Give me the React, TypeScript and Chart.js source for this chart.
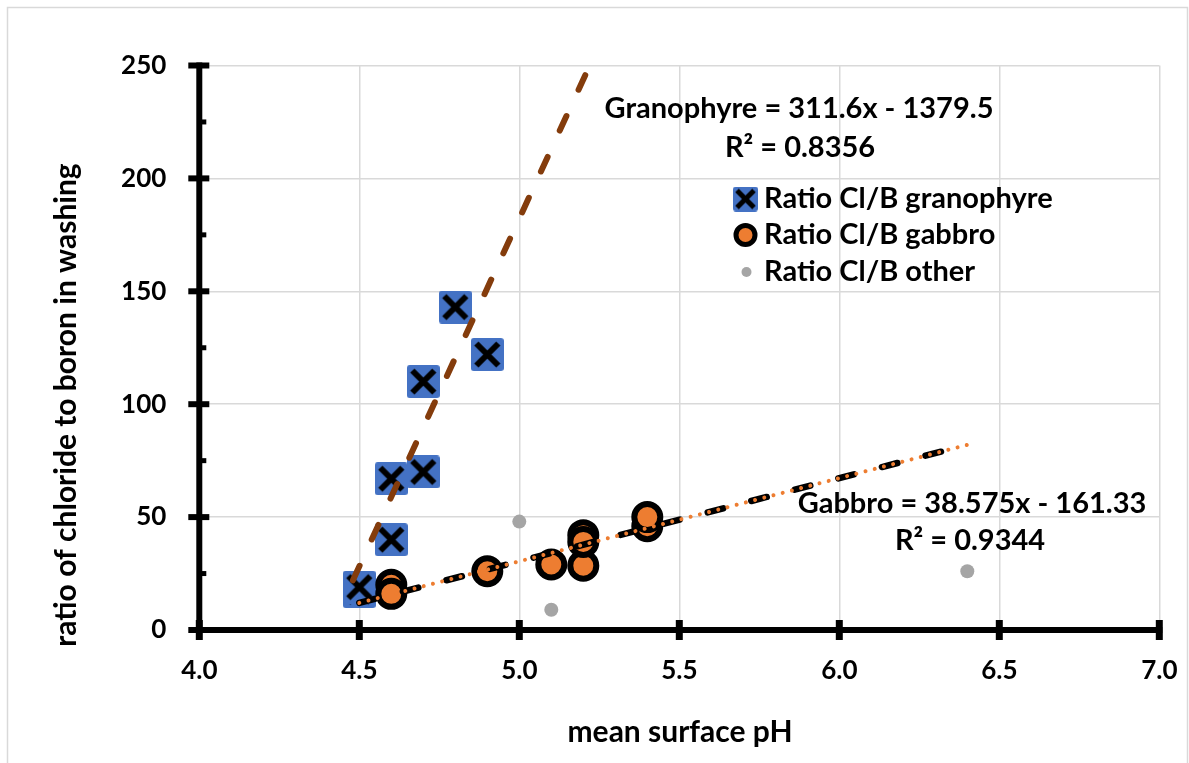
import { useEffect, useRef } from 'react';
import { Chart, registerables } from 'chart.js';

Chart.register(...registerables);

// ---- data ----
const granophyreX = [4.5, 4.5, 4.6, 4.6, 4.7, 4.7, 4.8, 4.9];
const granophyreY = [17, 19, 40, 67, 70, 110, 143, 122];
const gabbroX = [4.6, 4.6, 4.9, 5.1, 5.2, 5.2, 5.2, 5.4, 5.4];
const gabbroY = [20, 16, 26, 29, 28.5, 42, 39, 46, 50];
const otherX = [5.0, 5.1, 6.4];
const otherY = [48, 9, 26];
const granoTrendX = [4.48, 5.22];
const granoTrendY = [22, 250];
const gabbroTrendX = [4.5, 6.4];
const gabbroTrendY = [12, 82];

const xTickLabels = ['4.0', '4.5', '5.0', '5.5', '6.0', '6.5', '7.0'];
const yTickLabels = ['0', '50', '100', '150', '200', '250'];
const legendLabels = ['Ratio Cl/B granophyre', 'Ratio Cl/B gabbro', 'Ratio Cl/B other'];
const granoEquation = ['Granophyre = 311.6x - 1379.5', 'R\u00B2 = 0.8356'];
const gabbroEquation = ['Gabbro = 38.575x - 161.33', 'R\u00B2 = 0.9344'];
const xTitle = 'mean surface pH';
const yTitle = 'ratio of chloride to boron in washing';

const FONT = 'Lato, "Open Sans", sans-serif';
const BLUE = '#4472C4';
const ORANGE = '#ED7D31';
const GREY = '#A5A5A5';
const BROWN = '#843C0C';
const GRID = '#D9D9D9';

const zip = (xs: number[], ys: number[]) => xs.map((x, i) => ({ x, y: ys[i] }));

function makeCrossSquare(size: number, half: number, lw: number): HTMLCanvasElement {
  const c = document.createElement('canvas');
  c.width = size;
  c.height = size;
  const g = c.getContext('2d')!;
  const r = 3;
  g.fillStyle = BLUE;
  g.beginPath();
  g.moveTo(r, 0);
  g.lineTo(size - r, 0);
  g.quadraticCurveTo(size, 0, size, r);
  g.lineTo(size, size - r);
  g.quadraticCurveTo(size, size, size - r, size);
  g.lineTo(r, size);
  g.quadraticCurveTo(0, size, 0, size - r);
  g.lineTo(0, r);
  g.quadraticCurveTo(0, 0, r, 0);
  g.closePath();
  g.fill();
  const m = size / 2;
  g.strokeStyle = '#000';
  g.lineWidth = lw;
  g.lineCap = 'butt';
  g.beginPath();
  g.moveTo(m - half, m - half);
  g.lineTo(m + half, m + half);
  g.moveTo(m + half, m - half);
  g.lineTo(m - half, m + half);
  g.stroke();
  return c;
}

export default function App() {
  const ref = useRef<HTMLCanvasElement>(null);

  useEffect(() => {
    const canvas = ref.current!;
    const markerBig = makeCrossSquare(33, 11, 6);
    const markerLegend = makeCrossSquare(25, 8.5, 5);

    const customPlugin = {
      id: 'custom',
      beforeDraw(chart: any) {
        const { ctx } = chart;
        ctx.save();
        ctx.fillStyle = '#fff';
        ctx.fillRect(0, 0, chart.width, chart.height);
        ctx.strokeStyle = GRID;
        ctx.lineWidth = 1.5;
        ctx.strokeRect(7.5, 7.5, 1180, 800);
        ctx.restore();
      },
      beforeDatasetsDraw(chart: any) {
        const { ctx } = chart;
        const xs = chart.scales.x;
        const ys = chart.scales.y;
        const x0 = xs.getPixelForValue(4);
        const x1 = xs.getPixelForValue(7);
        const y0 = ys.getPixelForValue(0);
        const y1 = ys.getPixelForValue(250);
        ctx.save();
        ctx.strokeStyle = '#000';
        ctx.lineCap = 'butt';
        // axis lines
        ctx.lineWidth = 6;
        ctx.beginPath();
        ctx.moveTo(x0, y1 - 3);
        ctx.lineTo(x0, y0 + 3);
        ctx.moveTo(x0 - 3, y0);
        ctx.lineTo(x1 + 3, y0);
        ctx.stroke();
        // y major ticks (cross)
        ctx.lineWidth = 6;
        for (let v = 0; v <= 250; v += 50) {
          const p = ys.getPixelForValue(v);
          ctx.beginPath();
          ctx.moveTo(x0 - 11, p);
          ctx.lineTo(x0 + 10, p);
          ctx.stroke();
        }
        // y minor ticks (inside)
        ctx.lineWidth = 5;
        for (let v = 25; v < 250; v += 50) {
          const p = ys.getPixelForValue(v);
          ctx.beginPath();
          ctx.moveTo(x0, p);
          ctx.lineTo(x0 + 7, p);
          ctx.stroke();
        }
        // x major ticks (cross)
        ctx.lineWidth = 7;
        for (let v = 4; v <= 7.001; v += 0.5) {
          const p = xs.getPixelForValue(v);
          ctx.beginPath();
          ctx.moveTo(p, y0 - 10);
          ctx.lineTo(p, y0 + 10);
          ctx.stroke();
        }
        ctx.restore();
      },
      afterDraw(chart: any) {
        const { ctx } = chart;
        ctx.save();
        ctx.fillStyle = '#000';
        ctx.textBaseline = 'alphabetic';
        ctx.font = `bold 29px ${FONT}`;
        ctx.textAlign = 'center';
        // trendline equations
        ctx.fillText(granoEquation[0], 799, 118);
        ctx.fillText(granoEquation[1], 800, 157);
        ctx.fillText(gabbroEquation[0], 972, 513);
        ctx.fillText(gabbroEquation[1], 970, 550);

        // legend
        ctx.textAlign = 'left';
        const lx = 745.5;
        const textX = 764;
        const rows = [199, 235, 272];
        const baselines = [207.5, 244, 280.5];
        ctx.drawImage(markerLegend, lx - 12.5, rows[0] - 12.5);
        ctx.beginPath();
        ctx.arc(lx, rows[1], 9.5, 0, Math.PI * 2);
        ctx.fillStyle = ORANGE;
        ctx.fill();
        ctx.lineWidth = 5;
        ctx.strokeStyle = '#000';
        ctx.stroke();
        ctx.beginPath();
        ctx.arc(lx + 1, rows[2], 5, 0, Math.PI * 2);
        ctx.fillStyle = GREY;
        ctx.fill();
        ctx.fillStyle = '#000';
        legendLabels.forEach((t, i) => ctx.fillText(t, textX, baselines[i]));

        // axis titles
        ctx.textAlign = 'center';
        ctx.font = `bold 30px ${FONT}`;
        ctx.fillText(xTitle, 680, 742);
        ctx.translate(75.5, 405);
        ctx.rotate(-Math.PI / 2);
        ctx.fillText(yTitle, 0, 0);
        ctx.restore();
      },
    };

    const chart = new Chart(canvas, {
      type: 'scatter',
      data: {
        datasets: [
          {
            label: 'Gabbro trend dots',
            data: zip(gabbroTrendX, gabbroTrendY),
            showLine: true,
            borderColor: ORANGE,
            borderWidth: 4,
            borderDash: [0.01, 9.5],
            borderCapStyle: 'round',
            pointRadius: 0,
            fill: false,
          },
          {
            label: 'Gabbro trend',
            data: zip(gabbroTrendX, gabbroTrendY),
            showLine: true,
            borderColor: '#000',
            borderWidth: 6.5,
            borderDash: [16, 29],
            borderCapStyle: 'round',
            pointRadius: 0,
            fill: false,
          },
          {
            label: 'Granophyre trend',
            data: zip(granoTrendX, granoTrendY),
            showLine: true,
            borderColor: BROWN,
            borderWidth: 6,
            borderDash: [16, 29],
            borderCapStyle: 'round',
            pointRadius: 0,
            fill: false,
          },
          {
            label: legendLabels[1],
            data: zip(gabbroX, gabbroY),
            pointRadius: 13,
            pointBorderWidth: 6,
            backgroundColor: ORANGE,
            borderColor: '#000',
            pointBackgroundColor: ORANGE,
            pointBorderColor: '#000',
          },
          {
            label: legendLabels[2],
            data: zip(otherX, otherY),
            pointRadius: 7,
            pointBorderWidth: 0,
            backgroundColor: GREY,
            borderColor: GREY,
          },
          {
            label: legendLabels[0],
            data: zip(granophyreX, granophyreY),
            pointStyle: markerBig,
            pointRadius: 16,
          },
        ],
      },
      options: {
        responsive: false,
        animation: false,
        devicePixelRatio: 1,
        layout: { padding: { top: 65.5, right: 29.7, left: 0, bottom: 0 }, autoPadding: false },
        plugins: {
          legend: { display: false },
          tooltip: { enabled: false },
          title: { display: false },
        },
        scales: {
          x: {
            type: 'linear',
            min: 4,
            max: 7,
            afterFit: (s: any) => {
              s.height = 133;
              s.paddingLeft = 0;
              s.paddingRight = 0;
            },
            ticks: {
              stepSize: 0.5,
              color: '#000',
              padding: 25,
              font: { family: FONT, size: 26, weight: 'bold' },
              callback: (v: any) => xTickLabels[Math.round((Number(v) - 4) / 0.5)] ?? '',
            },
            grid: { color: GRID, lineWidth: 1.5, drawTicks: false },
            border: { display: false },
          },
          y: {
            type: 'linear',
            min: 0,
            max: 250,
            afterFit: (s: any) => {
              s.width = 199.3;
              s.paddingTop = 0;
              s.paddingBottom = 0;
            },
            ticks: {
              stepSize: 50,
              color: '#000',
              padding: 33,
              font: { family: FONT, size: 26, weight: 'bold' },
              callback: (v: any) => yTickLabels[Math.round(Number(v) / 50)] ?? '',
            },
            grid: { color: GRID, lineWidth: 1.5, drawTicks: false },
            border: { display: false },
          },
        },
      },
      plugins: [customPlugin],
    } as any);

    return () => chart.destroy();
  }, []);

  return (
    <div style={{ position: 'absolute', left: 0, top: 0, width: 1189, height: 763, background: '#fff' }}>
      <canvas ref={ref} width={1189} height={763} style={{ display: 'block', width: 1189, height: 763 }} />
    </div>
  );
}
